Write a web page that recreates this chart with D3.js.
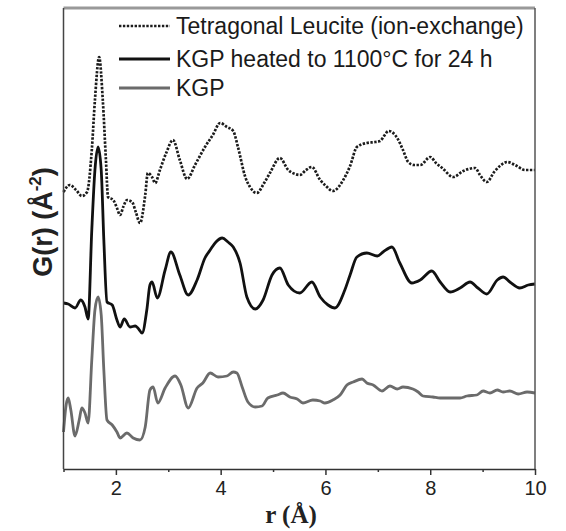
<!DOCTYPE html>
<html><head><meta charset="utf-8">
<script src="https://cdn.jsdelivr.net/npm/d3@7"></script>
<style>body{margin:0;background:#fff}svg{display:block}</style>
</head><body>
<svg id="c" width="566" height="531"></svg>
<script>
// ---- data (r in Å, G(r) arbitrary units, curves offset vertically as in the figure) ----
const seriesNames = ["Tetragonal Leucite (ion-exchange)", "KGP heated to 1100°C for 24 h", "KGP"];

const leuciteR = [1.00,1.12,1.24,1.35,1.45,1.54,1.60,1.68,1.75,1.81,1.85,1.95,2.02,2.08,2.14,2.21,2.31,2.38,2.46,2.56,2.61,2.69,2.75,2.84,2.96,3.09,3.22,3.36,3.51,3.70,3.85,3.99,4.12,4.24,4.33,4.47,4.56,4.69,4.83,4.94,5.13,5.29,5.42,5.51,5.63,5.74,5.90,6.01,6.14,6.34,6.47,6.60,6.79,6.95,7.04,7.21,7.37,7.48,7.58,7.69,7.81,8.00,8.11,8.23,8.44,8.63,8.86,8.95,9.08,9.22,9.33,9.47,9.62,9.81,10.00];
const leuciteG = [27.7,28.4,27.9,27.3,27.7,31.9,36.9,41.2,36.9,30.9,27.2,26.9,26.1,25.4,26.2,26.9,26.7,25.7,24.6,27.4,29.6,29.2,28.6,29.9,31.6,32.9,30.9,29.0,30.4,32.2,33.4,34.6,34.2,33.8,32.2,29.2,28.2,27.6,28.6,29.6,31.1,29.9,29.5,29.4,29.9,30.2,28.9,28.3,27.8,28.9,30.3,32.2,32.6,32.7,32.8,33.8,33.1,31.9,30.7,30.4,30.4,31.2,30.6,30.1,29.2,29.8,30.1,29.4,28.7,29.7,30.3,30.7,30.4,29.9,29.9];

const heatedR = [1.00,1.09,1.22,1.33,1.41,1.47,1.54,1.60,1.66,1.72,1.77,1.83,1.93,2.02,2.08,2.16,2.27,2.37,2.42,2.50,2.59,2.65,2.69,2.79,2.94,3.05,3.22,3.38,3.55,3.70,3.80,3.91,4.03,4.14,4.24,4.37,4.50,4.66,4.81,4.98,5.13,5.29,5.51,5.74,5.90,6.05,6.18,6.37,6.47,6.60,6.79,6.99,7.10,7.27,7.42,7.65,7.81,8.03,8.19,8.38,8.57,8.76,8.91,9.08,9.28,9.39,9.52,9.71,9.87,10.00];
const heatedG = [16.6,16.5,16.1,16.9,16.2,15.0,23.9,29.9,32.2,29.9,22.9,16.7,16.4,14.9,14.2,15.0,14.2,14.3,14.1,13.6,15.9,18.4,18.7,17.1,19.9,21.7,19.4,17.4,18.9,21.1,21.9,22.7,23.1,22.7,22.2,20.6,17.2,16.0,16.9,19.4,20.1,18.4,17.6,18.7,17.2,16.4,16.1,17.9,19.4,21.2,21.6,21.3,21.7,22.2,20.6,18.6,18.9,19.8,18.7,17.7,18.1,18.7,18.1,17.5,18.9,19.2,18.7,18.1,18.4,18.5];

const kgpR = [1.00,1.05,1.09,1.14,1.22,1.30,1.35,1.41,1.47,1.54,1.60,1.66,1.72,1.77,1.83,1.93,2.02,2.08,2.21,2.33,2.46,2.56,2.65,2.71,2.80,2.94,3.13,3.24,3.38,3.55,3.66,3.80,3.95,4.12,4.24,4.31,4.41,4.52,4.66,4.79,4.90,5.08,5.19,5.32,5.46,5.57,5.76,5.90,5.99,6.14,6.28,6.41,6.53,6.70,6.79,6.91,7.08,7.23,7.37,7.48,7.67,7.77,7.86,8.05,8.19,8.44,8.57,8.70,8.89,9.01,9.14,9.28,9.39,9.52,9.68,9.85,10.00];
const kgpG = [3.7,6.4,7.1,5.9,3.3,4.9,6.1,5.6,4.6,10.9,15.9,17.2,15.4,9.9,4.9,4.4,3.7,3.1,3.6,3.1,2.9,4.2,7.9,8.2,6.6,8.1,9.3,8.4,6.1,8.1,8.6,9.6,9.2,9.3,9.7,9.6,8.2,6.7,6.2,6.3,7.1,7.4,7.6,7.2,7.0,6.6,6.9,6.8,6.6,6.9,7.4,8.4,8.7,9.0,8.6,8.4,7.8,8.3,8.0,8.2,8.0,7.7,7.3,7.2,7.1,7.1,7.1,7.3,7.4,7.8,7.6,7.9,7.7,7.8,7.5,7.7,7.6];

const xTicksMajor = [2,4,6,8,10];
const xTicksMinor = [1,3,5,7,9];

// ---- layout ----
const svg = d3.select("#c");
const L = 63.5, R = 535, T = 8, B = 469;
const x = d3.scaleLinear().domain([1,10]).range([L,R]);
const y = d3.scaleLinear().domain([0,46.1]).range([B,T]);

const line = d3.line().x(d=>x(d[0])).y(d=>y(d[1])).curve(d3.curveMonotoneX);
const zip = (a,b)=>a.map((v,i)=>[v,b[i]]);

const series = [
  {name:seriesNames[0], pts:zip(leuciteR,leuciteG), color:"#1c1c1c", dash:"2.4,1.5", w:2.7},
  {name:seriesNames[1], pts:zip(heatedR,heatedG), color:"#111", dash:null, w:2.8},
  {name:seriesNames[2], pts:zip(kgpR,kgpG), color:"#6b6b6b", dash:null, w:2.8}
];

series.forEach(s=>{
  svg.append("path").attr("d", line(s.pts)).attr("fill","none")
    .attr("stroke", s.color).attr("stroke-width", s.w)
    .attr("stroke-dasharray", s.dash).attr("stroke-linejoin","round");
});

// frame
svg.append("line").attr("x1",L).attr("x2",R).attr("y1",T).attr("y2",T).attr("stroke","#999").attr("stroke-width",3);
svg.append("line").attr("x1",L).attr("x2",L).attr("y1",T).attr("y2",B).attr("stroke","#444").attr("stroke-width",1.5);
svg.append("line").attr("x1",R).attr("x2",R).attr("y1",T).attr("y2",B).attr("stroke","#555").attr("stroke-width",1.5);

// x axis
const axMaj = svg.append("g").attr("transform",`translate(0,${B})`)
  .call(d3.axisBottom(x).tickValues(xTicksMajor).tickSize(6).tickSizeOuter(0).tickPadding(6).tickFormat(d3.format("d")));
axMaj.select(".domain").attr("stroke","#333").attr("stroke-width",1.5);
axMaj.selectAll(".tick line").attr("stroke","#333").attr("stroke-width",1.5);
axMaj.selectAll(".tick text").attr("font-family","Liberation Sans, Arial, sans-serif").attr("font-size",20).attr("fill","#222");
const axMin = svg.append("g").attr("transform",`translate(0,${B})`)
  .call(d3.axisBottom(x).tickValues(xTicksMinor).tickSize(3).tickSizeOuter(0).tickFormat(""));
axMin.select(".domain").remove();
axMin.selectAll(".tick line").attr("stroke","#333").attr("stroke-width",1.5);

// axis titles
const xt = svg.append("text").attr("x",291).attr("y",523).attr("text-anchor","middle")
  .attr("font-family","Liberation Serif, Times New Roman, serif").attr("font-weight","bold").attr("font-size",25).attr("fill","#222");
xt.text("r (Å)");

const yt = svg.append("text").attr("transform","translate(52,222) rotate(-90)").attr("text-anchor","middle")
  .attr("font-family","Liberation Sans, Arial, sans-serif").attr("font-weight","bold").attr("font-size",27).attr("fill","#222");
yt.append("tspan").text("G(r) (Å");
yt.append("tspan").attr("font-size",17).attr("dy",-11).text("-2");
yt.append("tspan").attr("dy",11).text(")");

// legend
const legY = [26, 59, 88];
series.forEach((s,i)=>{
  svg.append("line").attr("x1",119).attr("x2",170).attr("y1",legY[i]).attr("y2",legY[i])
    .attr("stroke",s.color).attr("stroke-width",s.w).attr("stroke-dasharray",s.dash);
  svg.append("text").attr("x",176).attr("y",legY[i]+8)
    .attr("font-family","Liberation Sans, Arial, sans-serif").attr("font-size",23).attr("fill","#1a1a1a")
    .text(s.name);
});
</script>
</body></html>
